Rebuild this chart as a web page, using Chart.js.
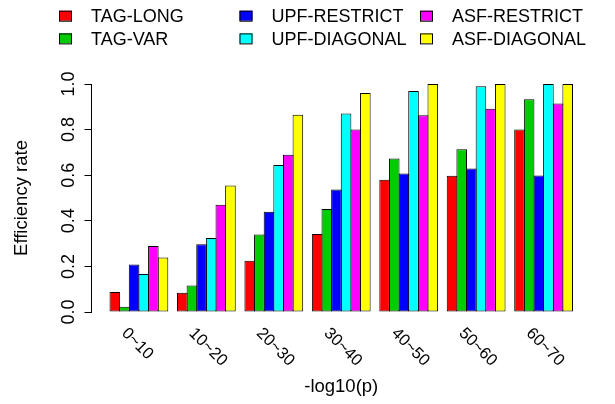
<!DOCTYPE html>
<html>
<head>
<meta charset="utf-8">
<script src="https://cdn.jsdelivr.net/npm/chart.js@4/dist/chart.umd.min.js"></script>
<style>
  html, body { margin: 0; padding: 0; background: #fff; }
  #wrap { width: 615px; height: 404px; position: relative; }
</style>
</head>
<body>
<div id="wrap"><canvas id="effChart"></canvas></div>
<script>
// data
const categories = ['0~10', '10~20', '20~30', '30~40', '40~50', '50~60', '60~70'];
const seriesNames = ['TAG-LONG', 'TAG-VAR', 'UPF-RESTRICT', 'UPF-DIAGONAL', 'ASF-RESTRICT', 'ASF-DIAGONAL'];
const seriesColors = ['#ff0000', '#00cd00', '#0000ff', '#00ffff', '#ff00ff', '#ffff00'];

const tagLong     = [0.088, 0.084, 0.225, 0.342, 0.580, 0.598, 0.800];
const tagVar      = [0.023, 0.116, 0.340, 0.452, 0.673, 0.714, 0.933];
const upfRestrict = [0.208, 0.297, 0.440, 0.537, 0.607, 0.629, 0.599];
const upfDiagonal = [0.167, 0.325, 0.645, 0.871, 0.969, 0.990, 1.000];
const asfRestrict = [0.289, 0.470, 0.690, 0.800, 0.863, 0.891, 0.915];
const asfDiagonal = [0.239, 0.555, 0.865, 0.960, 1.000, 1.000, 1.000];
const seriesValues = [tagLong, tagVar, upfRestrict, upfDiagonal, asfRestrict, asfDiagonal];

const yTicks = [0, 0.2, 0.4, 0.6, 0.8, 1.0];

// R barplot style layout: one unit per bar, one unit gap before each group
const barsPerGroup = seriesNames.length;
const groupGap = 1;
const groupStep = barsPerGroup + groupGap;
const groupCenters = categories.map((c, i) => groupGap + i * groupStep + barsPerGroup / 2);
const xLo = groupGap, xHi = categories.length * groupStep;
const xPad = 0.04 * (xHi - xLo);

const FONT = '"Liberation Sans", Arial, Helvetica, sans-serif';

// legend, y tick labels and rotated group labels, drawn the way R does them
const rStylePlugin = {
    id: 'rStyle',
    afterDraw(chart) {
        const { ctx, scales } = chart;
        const xs = scales.x, ys = scales.y;
        ctx.save();
        ctx.fillStyle = '#000';

        // y tick labels, rotated
        ctx.font = '18px ' + FONT;
        ctx.textAlign = 'center';
        ctx.textBaseline = 'alphabetic';
        ys.ticks.forEach((t, i) => {
            const py = ys.getPixelForTick(i);
            ctx.save();
            ctx.translate(ys.right - 17.5, py);
            ctx.rotate(-Math.PI / 2);
            ctx.fillText(t.value.toFixed(1), 0, 0);
            ctx.restore();
        });

        // group labels at -45 degrees
        ctx.font = '16.5px ' + FONT;
        ctx.textAlign = 'left';
        xs.ticks.forEach((t, i) => {
            const px = xs.getPixelForTick(i);
            ctx.save();
            ctx.translate(px - 18, ys.bottom + 22);
            ctx.rotate(Math.PI / 4);
            ctx.fillText(categories[i], 0, 0);
            ctx.restore();
        });

        // legend: 3 columns x 2 rows, filled column by column
        ctx.font = '18px ' + FONT;
        ctx.textAlign = 'left';
        chart.data.datasets.forEach((ds, i) => {
            const col = Math.floor(i / 2), row = i % 2;
            const bx = 59 + col * 180.5;
            const cy = 15.7 + row * 22.7;
            ctx.fillStyle = ds.backgroundColor;
            ctx.fillRect(bx, cy - 5, 13, 10);
            ctx.strokeStyle = '#000';
            ctx.lineWidth = 1;
            ctx.strokeRect(bx + 0.5, cy - 5 + 0.5, 12, 10);
            ctx.fillStyle = '#000';
            ctx.fillText(ds.label, bx + 32, cy + 6.4);
        });
        ctx.restore();
    }
};

new Chart(document.getElementById('effChart'), {
    type: 'bar',
    data: {
        datasets: seriesNames.map((name, s) => ({
            label: name,
            data: seriesValues[s].map((v, i) => ({ x: groupCenters[i], y: v })),
            backgroundColor: seriesColors[s],
            borderColor: '#000',
            borderWidth: 1,
            borderSkipped: false,
            inflateAmount: 0,
            categoryPercentage: barsPerGroup / groupStep,
            barPercentage: 1.1 // slight overlap so neighbouring borders share one line
        }))
    },
    plugins: [rStylePlugin],
    options: {
        responsive: true,
        maintainAspectRatio: false,
        animation: false,
        layout: { padding: { top: 84, right: 24, bottom: 0, left: 0 } },
        scales: {
            x: {
                type: 'linear',
                offset: false,
                min: xLo - xPad,
                max: xHi + xPad,
                afterBuildTicks: (s) => { s.ticks = groupCenters.map(v => ({ value: v })); },
                afterFit: (s) => { s.height = 92; },
                grid: { display: false },
                border: { display: false },
                ticks: { display: false },
                title: {
                    display: true,
                    text: '-log10(p)',
                    color: '#000',
                    font: { family: FONT, size: 18.5 },
                    padding: { top: 0, bottom: 6 }
                }
            },
            y: {
                min: 0,
                max: 1,
                afterBuildTicks: (s) => { s.ticks = yTicks.map(v => ({ value: v })); },
                afterFit: (s) => { s.width = 91.5; },
                grid: { drawOnChartArea: false, drawTicks: true, tickLength: 7, color: '#000' },
                border: { display: true, color: '#000', width: 1 },
                ticks: { display: false },
                title: {
                    display: true,
                    text: 'Efficiency rate',
                    color: '#000',
                    font: { family: FONT, size: 18.5 },
                    padding: { top: 11, bottom: 0 }
                }
            }
        },
        plugins: {
            legend: { display: false },
            tooltip: { enabled: false }
        }
    }
});
</script>
</body>
</html>
